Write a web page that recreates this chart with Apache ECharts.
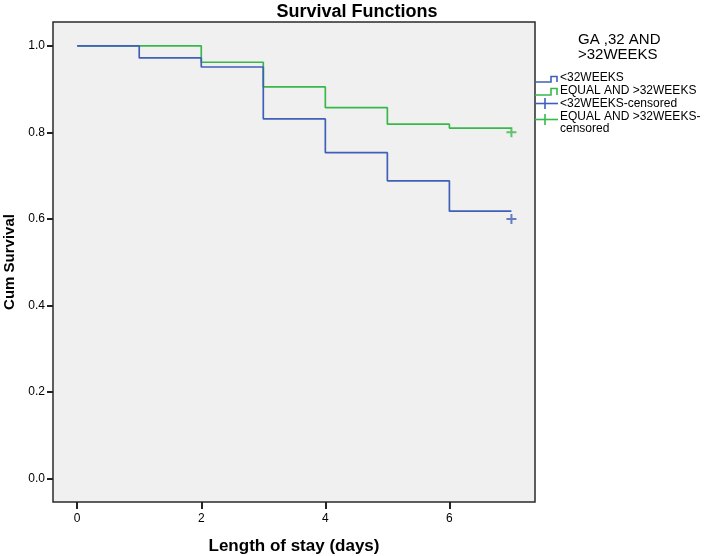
<!DOCTYPE html>
<html>
<head>
<meta charset="utf-8">
<script src="https://cdn.jsdelivr.net/npm/echarts@6/dist/echarts.min.js"></script>
<style>html,body{margin:0;padding:0;background:#fff}#c{width:708px;height:556px}</style>
</head>
<body>
<div id="c"></div>
<script>
// Data
var lt32Days = [0, 1, 2, 3, 4, 5, 6, 7];
var lt32Surv = [1.0, 0.972, 0.951, 0.831, 0.753, 0.688, 0.618, 0.618];
var ge32Days = [0, 2, 3, 4, 5, 6, 7];
var ge32Surv = [1.0, 0.962, 0.905, 0.857, 0.819, 0.810, 0.810];
var lt32Censored = [[7, 0.60]];
var ge32Censored = [[7, 0.80]];
var xTicks = [0, 2, 4, 6];
var yTicks = [0, 0.2, 0.4, 0.6, 0.8, 1.0];
var legendTitle = ['GA ,32 AND', '>32WEEKS'];
var legendNames = ['<32WEEKS', 'EQUAL AND >32WEEKS', '<32WEEKS-censored', 'EQUAL AND >32WEEKS-\ncensored'];

var BLUE = '#4060b8';
var GREEN = '#38b84a';
var FONT = 'Liberation Sans, Arial, sans-serif';
var plusPath = 'path://M4.0,0 H6.0 V4.0 H10 V6.0 H6.0 V10 H4.0 V6.0 H0 V4.0 H4.0 Z';

function zip(xs, ys) { return xs.map(function (x, i) { return [x, ys[i]]; }); }

var chart = echarts.init(document.getElementById('c'), null, { renderer: 'canvas' });
chart.setOption({
  backgroundColor: '#ffffff',
  animation: false,
  title: {
    text: 'Survival Functions',
    left: 352, top: -2, textAlign: 'center',
    textStyle: { fontFamily: FONT, fontSize: 18, fontWeight: 'bold', color: '#000' }
  },
  grid: {
    left: 53, right: 173, top: 22, bottom: 54,
    containLabel: false, outerBoundsMode: 'none',
    show: true, backgroundColor: '#f0f0f0', borderColor: '#2a2a2a', borderWidth: 1.5
  },
  xAxis: {
    type: 'value', min: -0.39, max: 7.38,
    name: 'Length of stay (days)', nameLocation: 'middle', nameGap: 36,
    nameTextStyle: { fontFamily: FONT, fontSize: 17, fontWeight: 'bold', color: '#000' },
    axisLine: { show: false, onZero: false },
    splitLine: { show: false },
    axisTick: { show: true, inside: false, length: 7, lineStyle: { color: '#222', width: 2 }, customValues: xTicks },
    axisLabel: { customValues: xTicks, margin: 11, fontFamily: FONT, fontSize: 12, color: '#000',
      formatter: function (v) { return String(v); } }
  },
  yAxis: {
    type: 'value', min: -0.054, max: 1.055,
    name: 'Cum Survival', nameLocation: 'middle', nameGap: 32, nameRotate: 90,
    nameTextStyle: { fontFamily: FONT, fontSize: 15, fontWeight: 'bold', color: '#000' },
    axisLine: { show: false, onZero: false },
    splitLine: { show: false },
    axisTick: { show: true, inside: false, length: 6, lineStyle: { color: '#222', width: 2 }, customValues: yTicks },
    axisLabel: { customValues: yTicks, margin: 8, fontFamily: FONT, fontSize: 12, color: '#000',
      formatter: function (v) { return v.toFixed(1); } }
  },
  series: [
    { name: legendNames[0], type: 'line', step: 'end', data: zip(lt32Days, lt32Surv),
      showSymbol: false, lineStyle: { color: BLUE, width: 1.7 }, z: 3 },
    { name: legendNames[1], type: 'line', step: 'end', data: zip(ge32Days, ge32Surv),
      showSymbol: false, lineStyle: { color: GREEN, width: 1.7 }, z: 2 },
    { name: legendNames[2], type: 'scatter', data: lt32Censored, symbol: plusPath, symbolSize: 10,
      itemStyle: { color: BLUE }, z: 4 },
    { name: legendNames[3], type: 'scatter', data: ge32Censored, symbol: plusPath, symbolSize: 10,
      itemStyle: { color: GREEN }, z: 4 }
  ],
  graphic: [
    { type: 'text', left: 578, top: 32.5, style: { text: legendTitle.join('\n'), font: '15px ' + FONT,
      fill: '#000', align: 'center', lineHeight: 15, x: 44 } },
    { type: 'polyline', shape: { points: [[535, 82], [551, 82], [551, 76.5], [557, 76.5], [557, 82]] },
      style: { stroke: BLUE, lineWidth: 1.6, fill: null } },
    { type: 'polyline', shape: { points: [[535, 95], [551, 95], [551, 88.5], [557, 88.5], [557, 95]] },
      style: { stroke: GREEN, lineWidth: 1.6, fill: null } },
    { type: 'polyline', shape: { points: [[535, 103.5], [558, 103.5]] }, style: { stroke: BLUE, lineWidth: 1.6 } },
    { type: 'polyline', shape: { points: [[545, 98], [545, 109]] }, style: { stroke: BLUE, lineWidth: 1.6 } },
    { type: 'polyline', shape: { points: [[535, 119.5], [558, 119.5]] }, style: { stroke: GREEN, lineWidth: 1.6 } },
    { type: 'polyline', shape: { points: [[545, 114], [545, 125]] }, style: { stroke: GREEN, lineWidth: 1.6 } },
    { type: 'text', left: 560, top: 72, style: { text: legendNames[0], font: '12px ' + FONT, fill: '#000' } },
    { type: 'text', left: 560, top: 85, style: { text: legendNames[1], font: '12px ' + FONT, fill: '#000' } },
    { type: 'text', left: 560, top: 97.5, style: { text: legendNames[2], font: '12px ' + FONT, fill: '#000' } },
    { type: 'text', left: 560, top: 110.5, style: { text: legendNames[3], font: '12px ' + FONT, fill: '#000', lineHeight: 12 } }
  ]
});
</script>
</body>
</html>
